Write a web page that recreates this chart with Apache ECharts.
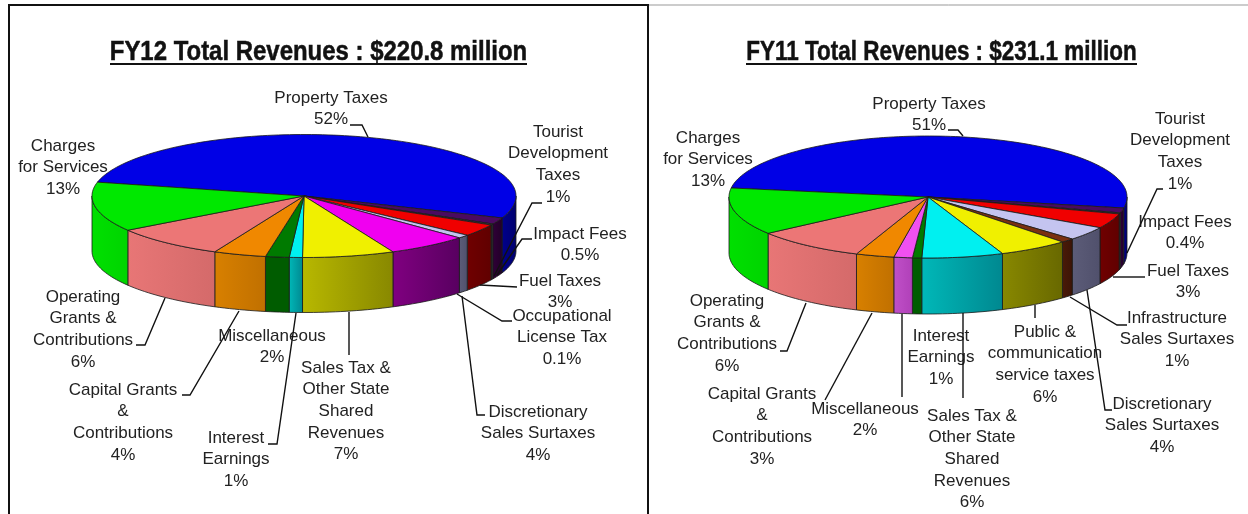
<!DOCTYPE html>
<html>
<head>
<meta charset="utf-8">
<style>
  html, body { margin: 0; padding: 0; background: #fff; }
  #main { width: 1248px; height: 514px; }
  /* the source is a soft scan */
  #main canvas { filter: blur(0.4px); }
</style>
<script src="https://cdn.jsdelivr.net/npm/echarts@6/dist/echarts.min.js"></script>
</head>
<body>
<div id="main"></div>
<script>
// FY12 slices, clockwise from the left edge of the blue slice
const fy12Categories = ['Property Taxes', 'Tourist\nDevelopment\nTaxes', 'Impact Fees', 'Fuel Taxes',
  'Occupational\nLicense Tax', 'Discretionary\nSales Surtaxes', 'Sales Tax &\nOther State\nShared\nRevenues',
  'Interest\nEarnings', 'Miscellaneous', 'Capital Grants\n&\nContributions', 'Operating\nGrants &\nContributions',
  'Charges\nfor Services'];
// printed on the chart
const fy12Printed = ['52%', '1%', '0.5%', '3%', '0.1%', '4%', '7%', '1%', '2%', '4%', '6%', '13%'];
// size of the drawn slices (they do not follow the printed numbers exactly)
const fy12Shares = [52.2, 1.7, 0.3, 3.2, 0.9, 6.2, 7, 1, 1.8, 4, 8.7, 13];

const fy11Categories = ['Property Taxes', 'Tourist\nDevelopment\nTaxes', 'Impact Fees', 'Fuel Taxes',
  'Discretionary\nSales Surtaxes', 'Infrastructure\nSales Surtaxes', 'Public &\ncommunication\nservice taxes',
  'Sales Tax &\nOther State\nShared\nRevenues', 'Interest\nEarnings', 'Miscellaneous',
  'Capital Grants\n&\nContributions', 'Operating\nGrants &\nContributions', 'Charges\nfor Services'];
const fy11Printed = ['51%', '1%', '0.4%', '3%', '4%', '1%', '6%', '6%', '1%', '2%', '3%', '6%', '13%'];
const fy11Shares = [50.5, 1.3, 0.3, 3.9, 3.7, 1.1, 5.7, 6.6, 0.75, 1.5, 3.1, 9, 12.5];

// top colour, wall gradient
const BLUE = ['#0000e6', '#00008c', '#00006e'];
const PURPLE = ['#4a0a60', '#300038', '#220028'];
const SLIVER = ['#3a3a3a', '#2a2a2a', '#2a2a2a'];
const RED = ['#f00000', '#700000', '#600000'];
const LAVENDER = ['#c4c4f0', '#5c5c78', '#50506c'];
const BROWN = ['#7a3010', '#4a1a08', '#3c1406'];
const MAGENTA = ['#f000f0', '#800080', '#580060'];
const YELLOW = ['#f0f000', '#b8b800', '#888800'];
const OLIVE = ['#f0f000', '#888800', '#686800'];
const CYAN = ['#00f0f0', '#00b8b8', '#008890'];
const DKGREEN = ['#007a00', '#005c00', '#005c00'];
const ORANGE = ['#f08800', '#d88000', '#c07000'];
const ORCHID = ['#f050f0', '#c050c8', '#b040b8'];
const PINK = ['#ec7676', '#e87676', '#d46a6a'];
const GREEN = ['#00e800', '#00e000', '#00d400'];

const fy12Colors = [BLUE, PURPLE, SLIVER, RED, LAVENDER, MAGENTA, YELLOW, CYAN, DKGREEN, ORANGE, PINK, GREEN];
const fy11Colors = [BLUE, PURPLE, SLIVER, RED, LAVENDER, BROWN, OLIVE, CYAN, DKGREEN, ORCHID, ORANGE, PINK, GREEN];

// centre x, y of the first text line
const fy12LabelPos = [[331, 98], [558, 132], [580, 234], [560, 281], [562, 316], [538, 412], [346, 368],
  [236, 438], [272, 336], [123, 390], [83, 297], [63, 146]];
const fy11LabelPos = [[929, 104], [1180, 119], [1185, 222], [1188, 271], [1162, 404], [1177, 318], [1045, 332],
  [972, 416], [941, 336], [865, 409], [762, 394], [727, 301], [708, 138]];

const leaderLines = [
  [[350, 125], [362, 125], [368, 137]],
  [[542, 203], [532, 203], [494, 276]],
  [[532, 239], [522, 239], [497, 275]],
  [[517, 287], [480, 285]],
  [[512, 321], [502, 321], [457, 294]],
  [[485, 415], [477, 415], [462, 296]],
  [[349, 312], [349, 355]],
  [[136, 345], [145, 345], [165, 298]],
  [[182, 395], [190, 395], [239, 311]],
  [[268, 444], [277, 444], [296, 313]],

  [[948, 130], [958, 130], [963, 136]],
  [[1163, 189], [1157, 189], [1127, 253]],
  [[1145, 277], [1113, 277]],
  [[1127, 325], [1117, 325], [1070, 297]],
  [[1112, 410], [1105, 410], [1087, 290]],
  [[1035, 305], [1035, 318]],
  [[963, 313], [963, 398]],
  [[902, 314], [902, 397]],
  [[825, 400], [872, 313]],
  [[780, 351], [787, 351], [806, 303]]
];

const LABEL_FONT = '17px "Liberation Sans", Arial, sans-serif';
const TITLE_FONT = 'bold 27px "Liberation Sans", Arial, sans-serif';
const LINE_HEIGHT = 21.7;
const DEG = Math.PI / 180;

// turns shares into [startAngle, endAngle] rows, angles clockwise from 3 o'clock
function toAngles(shares, start) {
  const total = shares.reduce((a, b) => a + b, 0);
  let angle = start;
  return shares.map((v) => {
    const from = angle;
    angle += (v / total) * 360;
    return [from, angle];
  });
}

function arc(pie, from, to, offsetY) {
  const pts = [];
  const steps = Math.max(1, Math.ceil((to - from) / 1.5));
  for (let i = 0; i <= steps; i++) {
    const a = (from + ((to - from) * i) / steps) * DEG;
    pts.push([pie.cx + pie.rx * Math.cos(a), pie.cy + pie.ry * Math.sin(a) + offsetY]);
  }
  return pts;
}

function topSeries(pie, shares, colors) {
  return {
    type: 'custom',
    coordinateSystem: 'none',
    silent: true,
    z: 3,
    data: toAngles(shares, pie.start),
    renderItem: (params, api) => {
      const points = [[pie.cx, pie.cy]].concat(arc(pie, api.value(0), api.value(1), 0));
      return {
        type: 'polygon',
        shape: { points },
        style: { fill: colors[params.dataIndex][0], stroke: '#1a1a1a', lineWidth: 0.8 }
      };
    }
  };
}

function wallSeries(pie, shares, colors) {
  return {
    type: 'custom',
    coordinateSystem: 'none',
    silent: true,
    z: 2,
    data: toAngles(shares, pie.start),
    renderItem: (params, api) => {
      // only the near half of the rim shows, 360..540 after the start offset
      const from = Math.max(api.value(0), 360);
      const to = Math.min(api.value(1), 540);
      if (to <= from) {
        return null;
      }
      const top = arc(pie, from, to, 0);
      const bottom = arc(pie, from, to, pie.depth).reverse();
      const c = colors[params.dataIndex];
      return {
        type: 'polygon',
        shape: { points: top.concat(bottom) },
        style: {
          fill: {
            type: 'linear', x: 0, y: 0, x2: 1, y2: 0,
            colorStops: [{ offset: 0, color: c[1] }, { offset: 1, color: c[2] }]
          },
          stroke: '#1a1a1a',
          lineWidth: 0.8
        }
      };
    }
  };
}

function labelGraphics(categories, printed, positions) {
  return categories.map((name, i) => ({
    type: 'text',
    z: 10,
    style: {
      text: name + '\n' + printed[i],
      x: positions[i][0],
      y: positions[i][1] - LINE_HEIGHT / 2,
      align: 'center',
      verticalAlign: 'top',
      font: LABEL_FONT,
      lineHeight: LINE_HEIGHT,
      fill: '#222'
    }
  }));
}

// no narrow face is installed, so the bold title is squeezed to the source width
const titleGraphic = (text, x, scaleX) => ({
  type: 'text',
  z: 10,
  x,
  y: 53,
  scaleX,
  style: {
    text, x: 0, y: 0, align: 'center', verticalAlign: 'middle', font: TITLE_FONT,
    fill: '#111', stroke: '#111', lineWidth: 0.5
  }
});

const fy12Pie = { cx: 304, cy: 196, rx: 212, ry: 61.5, depth: 55, start: 193 };
const fy11Pie = { cx: 928, cy: 197, rx: 199, ry: 61, depth: 56, start: 188.5 };

const line = (x1, y1, x2, y2, stroke, lineWidth) => ({
  type: 'line', z: 12, shape: { x1, y1, x2, y2 }, style: { stroke, lineWidth }
});

const chart = echarts.init(document.getElementById('main'), null, { renderer: 'canvas' });
chart.setOption({
  animation: false,
  backgroundColor: '#fff',
  series: [
    wallSeries(fy12Pie, fy12Shares, fy12Colors),
    topSeries(fy12Pie, fy12Shares, fy12Colors),
    wallSeries(fy11Pie, fy11Shares, fy11Colors),
    topSeries(fy11Pie, fy11Shares, fy11Colors)
  ],
  graphic: [
    // frame of the left panel
    line(8, 5, 649, 5, '#111', 2),
    line(9, 5, 9, 514, '#111', 2),
    line(648, 5, 648, 514, '#111', 2),
    line(649, 5, 1248, 5, '#999', 1),
    titleGraphic('FY12 Total Revenues : $220.8 million', 318.5, 0.887),
    titleGraphic('FY11 Total Revenues : $231.1 million', 941.5, 0.832),
    // title underlines
    line(110, 64, 527, 64, '#111', 2),
    line(746, 64, 1137, 64, '#111', 2)
  ]
    .concat(labelGraphics(fy12Categories, fy12Printed, fy12LabelPos))
    .concat(labelGraphics(fy11Categories, fy11Printed, fy11LabelPos))
    .concat(leaderLines.map((points) => ({
      type: 'polyline',
      z: 11,
      shape: { points },
      style: { stroke: '#111', lineWidth: 1.4, fill: 'none' }
    })))
});
</script>
</body>
</html>
